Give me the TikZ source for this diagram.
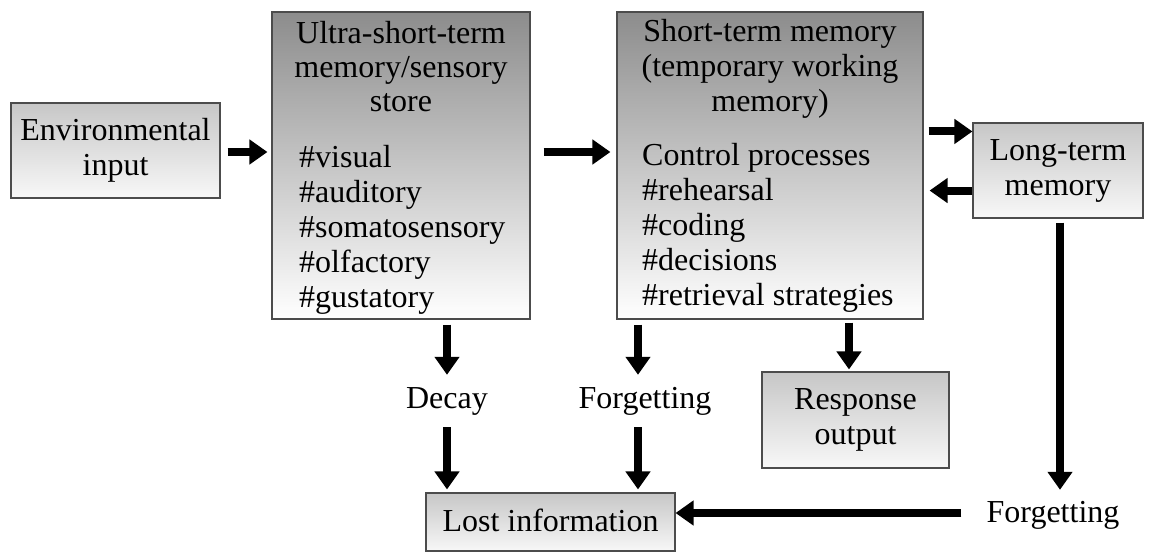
\documentclass[tikz,border=0pt]{standalone}
\usepackage{fontspec}
\setmainfont{Liberation Serif}
\usetikzlibrary{arrows.meta,calc}
\begin{document}
\begin{tikzpicture}[x=1pt,y=-1pt,
  box/.style={draw=black!70, line width=1.1pt, inner sep=0pt, align=center,
    font=\fontsize{32}{35}\selectfont},
  bigbox/.style={box, top color=black!45, bottom color=white},
  smallbox/.style={box, top color=black!22, bottom color=black!3},
  txt/.style={font=\fontsize{32}{35}\selectfont, inner sep=0pt},
  lbl/.style={txt, minimum height=52pt},
  blk/.style={line width=8pt, -{Triangle[length=18pt,width=24pt]}},
]
\useasboundingbox (0,0) rectangle (1154,552);

% boxes
\node[smallbox, minimum width=209pt, minimum height=95pt] (env) at (115.5,150.5) {Environmental\\input};
\node[bigbox, minimum width=258pt, minimum height=307pt] (sens) at (401,165.5) {};
\node[bigbox, minimum width=306pt, minimum height=307pt] (stm) at (770,165.5) {};
\node[smallbox, minimum width=170pt, minimum height=95pt] (ltm) at (1058,170.5) {Long-term\\memory};
\node[smallbox, minimum width=187pt, minimum height=96pt] (resp) at (855.5,420) {Response\\output};
\node[smallbox, minimum width=249pt, minimum height=58pt, text depth=4pt] (lost) at (550.5,522) {Lost information};

% box texts
\node[txt, align=center, font=\fontsize{32}{34}\selectfont] (senstitle) at (401,67) {Ultra-short-term\\memory/sensory\\store};
\node[txt, align=left, anchor=west] (sensitems) at (299,230) {\#visual\\\#auditory\\\#somatosensory\\\#olfactory\\\#gustatory};
\node[txt, align=center, font=\fontsize{32}{35}\selectfont] (stmtitle) at (770,69) {Short-term memory\\(temporary working\\memory)};
\node[txt, align=left, anchor=west] (stmitems) at (642,228) {Control processes\\\#rehearsal\\\#coding\\\#decisions\\\#retrieval strategies};

% labels
\node[lbl] (decay) at (447,401) {Decay};
\node[lbl] (forg1) at (645,401) {Forgetting};
\node[txt, minimum height=50pt] (forg2) at (1053,515) {Forgetting};

% helper coordinates
\coordinate (a1) at ($(ltm.north west)+(0,9)$);
\coordinate (a2) at ($(ltm.south west)+(0,-28)$);

% connectors
\draw[blk, shorten <=7pt, shorten >=4pt] (env.east |- 0,152) -- (sens.west |- 0,152);
\draw[blk, shorten <=13pt, shorten >=6pt] (sens.east |- 0,152) -- (stm.west |- 0,152);
\draw[blk, shorten <=5pt] (stm.east |- a1) -- (a1);
\draw[blk, shorten >=6pt] (a2) -- (stm.east |- a2);
\draw[blk, shorten <=5pt] (decay.north |- sens.south) -- (decay.north);
\draw[blk, shorten >=3pt] (decay.south) -- (decay.south |- lost.north);
\draw[blk, shorten <=5pt] ([xshift=-7pt]forg1.north |- stm.south) -- ([xshift=-7pt]forg1.north);
\draw[blk, shorten >=3pt] ([xshift=-7pt]forg1.south) -- ([xshift=-7pt]forg1.south |- lost.north);
\draw[blk, shorten <=3pt, shorten >=2pt] ([xshift=-6.5pt]resp.north |- stm.south) -- ([xshift=-6.5pt]resp.north);
\draw[blk, shorten <=4pt] ([xshift=7pt]forg2.north |- ltm.south) -- ([xshift=7pt]forg2.north);
\draw[blk, shorten <=25pt] ([yshift=2pt]forg2.west) -- ([yshift=2pt]lost.east |- forg2.west);
\end{tikzpicture}
\end{document}
